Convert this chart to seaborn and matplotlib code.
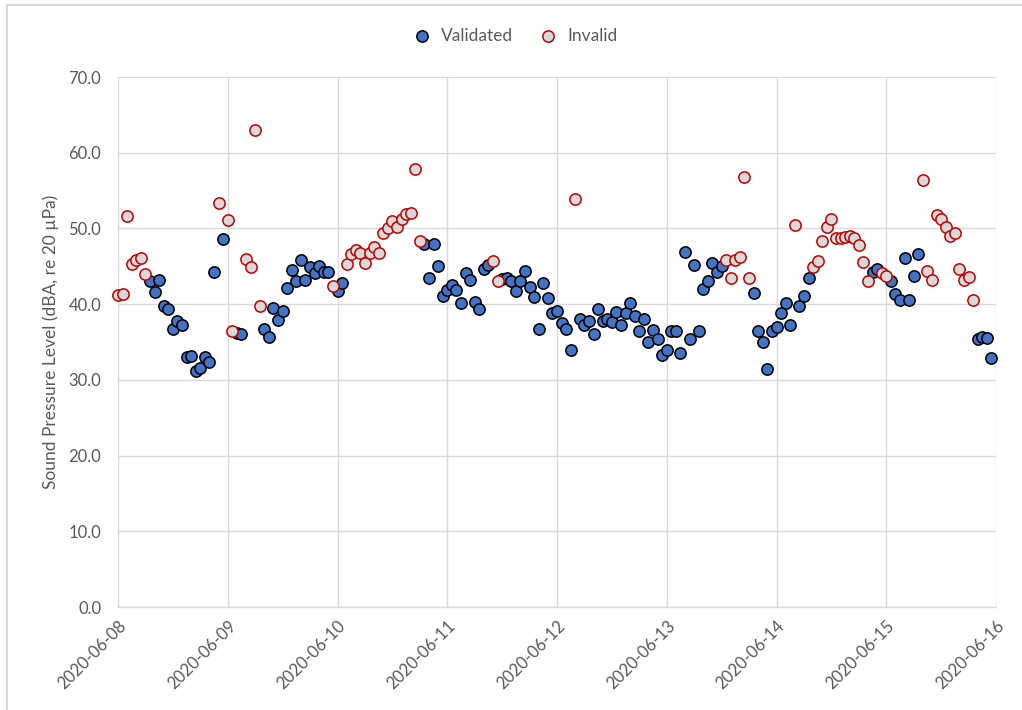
import numpy as np
import pandas as pd
import matplotlib
matplotlib.use("Agg")
import matplotlib.pyplot as plt
from matplotlib.patches import Rectangle
import seaborn as sns

# ---- data (hourly readings starting 2020-06-08 00:00) ----
start = "2020-06-08"
levels = [
    41.2, 41.3, 51.6, 45.3, 45.8, 46.1, 44.0, 43.1, 41.6, 43.2, 39.7, 39.4,
    36.7, 37.8, 37.2, 33.0, 33.2, 31.2, 31.6, 33.0, 32.3, 44.2, 53.3, 48.6,
    51.1, 36.5, 36.2, 36.1, 46.0, 44.9, 63.0, 39.8, 36.7, 35.7, 39.5, 37.9,
    39.1, 42.1, 44.5, 43.0, 45.8, 43.2, 44.9, 44.1, 45.1, 44.2, 44.2, 42.4,
    41.7, 42.8, 45.3, 46.6, 47.1, 46.7, 45.4, 46.7, 47.5, 46.8, 49.4, 50.0,
    51.0, 50.2, 51.3, 51.9, 52.0, 57.8, 48.4, 48.0, 43.4, 47.9, 45.1, 41.1,
    41.9, 42.5, 41.9, 40.2, 44.1, 43.2, 40.3, 39.4, 44.6, 45.2, 45.7, 43.0,
    43.3, 43.5, 43.0, 41.7, 43.0, 44.4, 42.3, 41.0, 36.7, 42.8, 40.8, 38.8,
    39.1, 37.5, 36.7, 33.9, 53.9, 38.0, 37.2, 37.8, 36.1, 39.3, 37.8, 38.0,
    37.6, 38.9, 37.3, 38.8, 40.1, 38.5, 36.5, 38.0, 35.0, 36.6, 35.4, 33.3,
    33.9, 36.4, 36.4, 33.5, 46.9, 35.4, 45.2, 36.5, 42.0, 43.1, 45.5, 44.2,
    45.1, 45.8, 43.4, 45.8, 46.2, 56.8, 43.4, 41.5, 36.5, 35.0, 31.4, 36.5,
    37.0, 38.8, 40.1, 37.2, 50.4, 39.8, 41.1, 43.5, 44.9, 45.7, 48.3, 50.2,
    51.2, 48.8, 48.8, 48.9, 49.0, 48.8, 47.8, 45.6, 43.1, 44.2, 44.6, 44.1,
    43.7, 43.0, 41.3, 40.5, 46.1, 40.6, 43.7, 46.6, 56.4, 44.4, 43.2, 51.8,
    51.2, 50.2, 49.0, 49.4, 44.6, 43.2, 43.6, 40.6, 35.4, 35.6, 35.5, 32.9,
]
# V = Validated, I = Invalid (one letter per hour, 12 per row, aligned with levels)
status_rows = [
    "IIIIIIIVVVVV",
    "VVVVVVVVVVIV",
    "IIVVIIIIVVVV",
    "VVVVVVVVVVVI",
    "VVIIIIIIIIII",
    "IIIIIIIVVVVV",
    "VVVVVVVVVVII",
    "VVVVVVVVVVVV",
    "VVVVIVVVVVVV",
    "VVVVVVVVVVVV",
    "VVVVVVVVVVVV",
    "VIIIIIIVVVVV",
    "VVVVIVVVIIII",
    "IIIIIIIIIVVI",
    "IVVVVVVVIIII",
    "IIIIIIIIVVVV",
]
series_names = ["Validated", "Invalid"]
y_ticks = [0, 10, 20, 30, 40, 50, 60, 70]
x_tick_labels = ["2020-06-08", "2020-06-09", "2020-06-10", "2020-06-11",
                 "2020-06-12", "2020-06-13", "2020-06-14", "2020-06-15",
                 "2020-06-16"]
y_label = "Sound Pressure Level (dBA, re 20 µPa)"

status = "".join(status_rows)
df = pd.DataFrame({
    "time": pd.date_range(start, periods=len(levels), freq="h"),
    "level": levels,
    "status": ["Validated" if c == "V" else "Invalid" for c in status],
})

sns.set_theme(style="white")
plt.rcParams["font.family"] = ["Lato", "DejaVu Sans"]
grey_text = "#595959"
grid_col = "#D9D9D9"

fig = plt.figure(figsize=(10.22, 7.10), dpi=100)
ax = fig.add_axes([118 / 1022, 1 - 607 / 710, (996 - 118) / 1022, (607 - 77) / 710])

styles = {
    "Validated": dict(color="#4472C4", edgecolor="#000000"),
    "Invalid": dict(color="#D9D9D9", edgecolor="#C00000"),
}
for name in series_names:
    sub = df[df["status"] == name]
    sns.scatterplot(data=sub, x="time", y="level", ax=ax, s=66, linewidth=1.1,
                    label=name, zorder=3, clip_on=False, **styles[name])

ax.set_ylim(0, 70)
ax.set_yticks(y_ticks)
ax.set_yticklabels([f"{v:.1f}" for v in y_ticks])
xt = pd.to_datetime(x_tick_labels)
ax.set_xlim(xt[0], xt[-1])
ax.set_xticks(xt)
ax.set_xticklabels(x_tick_labels, rotation=45, ha="right", rotation_mode="anchor")
ax.tick_params(axis="both", length=0, labelsize=12, colors=grey_text)
ax.tick_params(axis="y", pad=12)
ax.tick_params(axis="x", pad=8)
ax.grid(True, color=grid_col, linewidth=1.0)
ax.set_axisbelow(True)
for sp in ["top", "right", "left"]:
    ax.spines[sp].set_visible(False)
ax.spines["bottom"].set_color(grid_col)
ax.spines["bottom"].set_linewidth(1.0)
ax.set_xlabel("")
ax.set_ylabel(y_label, fontsize=12.5, color=grey_text, labelpad=7)

leg = ax.legend(loc="center", bbox_to_anchor=(0.5, (710 - 36) / 710), bbox_transform=fig.transFigure,
                ncol=2, frameon=False, fontsize=12.5, handletextpad=0.1, columnspacing=1.0,
                markerscale=1.0)
for t in leg.get_texts():
    t.set_color(grey_text)

fig.patches.append(Rectangle((7 / 1022, -10 / 710), 1030 / 1022, 715 / 710, transform=fig.transFigure,
                             fill=False, edgecolor=grid_col, linewidth=1.5))

fig.savefig("out.png", dpi=100)
